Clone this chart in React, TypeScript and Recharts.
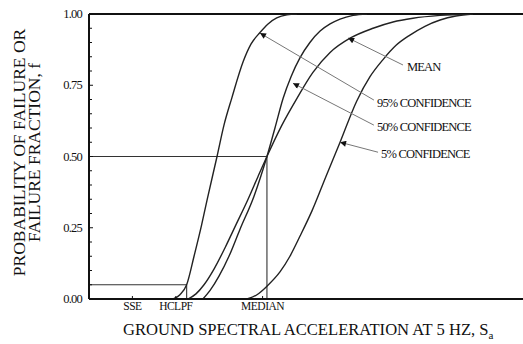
import React from "react"
import { LineChart, Line, XAxis, YAxis, ReferenceLine, ReferenceDot } from "recharts"

// fragility curves, x = spectral acceleration (g), f = failure probability
const conf95X = [0.388, 0.419, 0.45, 0.484, 0.519, 0.544, 0.59, 0.622, 0.658, 0.711, 0.747, 0.788, 0.825, 0.865, 0.912, 0.959]
const conf95F = [0, 0.015, 0.05, 0.15, 0.26, 0.347, 0.5, 0.61, 0.705, 0.834, 0.895, 0.935, 0.965, 0.986, 0.997, 1]

const meanX = [0.456, 0.493, 0.53, 0.576, 0.627, 0.677, 0.733, 0.779, 0.82, 0.889, 0.959, 1.032, 1.111, 1.203, 1.309, 1.401, 1.493, 1.618, 1.756]
const meanF = [0, 0.018, 0.05, 0.105, 0.18, 0.26, 0.35, 0.43, 0.5, 0.61, 0.705, 0.795, 0.865, 0.915, 0.95, 0.972, 0.985, 0.995, 1]

const conf50X = [0.525, 0.558, 0.599, 0.645, 0.696, 0.76, 0.82, 0.857, 0.895, 0.931, 0.972, 1.018, 1.065, 1.111, 1.157, 1.217, 1.281]
const conf50F = [0, 0.03, 0.08, 0.15, 0.245, 0.36, 0.5, 0.6, 0.705, 0.78, 0.846, 0.9, 0.94, 0.965, 0.982, 0.995, 1]

const conf5X = [0.728, 0.774, 0.82, 0.88, 0.926, 0.972, 1.028, 1.092, 1.157, 1.234, 1.295, 1.355, 1.415, 1.479, 1.548, 1.618, 1.691, 1.77]
const conf5F = [0, 0.015, 0.045, 0.095, 0.15, 0.22, 0.31, 0.43, 0.55, 0.695, 0.78, 0.84, 0.89, 0.926, 0.957, 0.979, 0.993, 1]

const hclpf = { x: 0.45, f: 0.05 }
const median = { x: 0.82, f: 0.5 }

const xTickValues = [0.2, 0.4, 0.8]
const xTickLabels = ["SSE", "HCLPF", "MEDIAN"]
const yMajorTicks = [0, 0.25, 0.5, 0.75, 1]
const yMinorTicks = [0, 0.05, 0.1, 0.15, 0.2, 0.25, 0.3, 0.35, 0.4, 0.45, 0.5, 0.55, 0.6, 0.65, 0.7, 0.75, 0.8, 0.85, 0.9, 0.95, 1]

// annotation labels: text position, arrow tail, arrow tip (data coords)
const noteLabels = ["MEAN", "95% CONFIDENCE", "50% CONFIDENCE", "5% CONFIDENCE"]
const noteText = [[1.465, 0.814], [1.327, 0.687], [1.327, 0.603], [1.346, 0.508]]
const noteTail = [[1.447, 0.821], [1.313, 0.698], [1.313, 0.61], [1.332, 0.515]]
const noteTip = [[1.194, 0.916], [0.788, 0.933], [0.94, 0.757], [1.157, 0.55]]

const toData = (xs: number[], fs: number[]) => xs.map((x, i) => ({ x, f: fs[i] }))

const FONT = "'Liberation Serif', 'DejaVu Serif', serif"
const INK = "#111"

const XTick = (props: any) => {
  const { x, y, index } = props
  return (
    <g>
      <line x1={x} x2={x} y1={y} y2={y - 3} stroke={INK} strokeWidth={1} />
      <text x={x} y={y + 7} textAnchor="middle" dominantBaseline="central" fontFamily={FONT} fontSize={11.5} letterSpacing={-0.5} fill={INK}>
        {xTickLabels[index]}
      </text>
    </g>
  )
}

const LeftTick = (props: any) => {
  const { x, y, payload } = props
  const major = yMajorTicks.includes(payload.value)
  return (
    <g>
      <line x1={x} x2={x + (major ? 4 : 3)} y1={y} y2={y} stroke={INK} strokeWidth={1} />
      {major && (
        <text x={x - 7} y={y} textAnchor="end" dominantBaseline="central" fontFamily={FONT} fontSize={12.5} letterSpacing={-0.8} fill={INK}>
          {payload.value.toFixed(2)}
        </text>
      )}
    </g>
  )
}

const RightTick = (props: any) => {
  const { x, y } = props
  return <line x1={x} x2={x - 4} y1={y} y2={y} stroke={INK} strokeWidth={1} />
}

const YTitle = (props: any) => {
  const { viewBox } = props
  const cy = viewBox.y + viewBox.height / 2 - 4
  const common = { textAnchor: "middle" as const, fontFamily: FONT, fontSize: 17.5, fill: INK }
  return (
    <g>
      <text x={25} y={cy} transform={`rotate(-90, 25, ${cy})`} {...common}>PROBABILITY OF FAILURE OR</text>
      <text x={40} y={cy} transform={`rotate(-90, 40, ${cy})`} {...common}>FAILURE FRACTION, f</text>
    </g>
  )
}

const XTitle = (props: any) => {
  const { viewBox } = props
  return (
    <text x={viewBox.x + 34} y={viewBox.y + 36} fontFamily={FONT} fontSize={16.6} fill={INK}>
      GROUND SPECTRAL ACCELERATION AT 5 HZ, S<tspan fontSize={11} dy={4}>a</tspan>
    </text>
  )
}

export default function App() {
  const curveStyle = { stroke: "#222", strokeWidth: 1.4, dot: false, isAnimationActive: false, type: "monotone" as const }
  return (
    <div style={{ position: "absolute", left: 0, top: 0, background: "#fff" }}>
      <LineChart width={523} height={344} margin={{ top: 14, right: 0, bottom: 0, left: 0 }}>
        <defs>
          <marker id="arrowHead" viewBox="0 0 10 10" refX="10" refY="5" markerWidth="8" markerHeight="6" markerUnits="userSpaceOnUse" orient="auto">
            <path d="M0,0 L10,5 L0,10 z" fill="#111" />
          </marker>
        </defs>
        <XAxis
          type="number"
          dataKey="x"
          domain={[0, 2]}
          ticks={xTickValues}
          interval={0}
          height={45}
          tickSize={0}
          tickMargin={0}
          tick={<XTick />}
          axisLine={{ stroke: INK, strokeWidth: 2 }}
          allowDataOverflow
          label={<XTitle />}
        />
        <YAxis
          type="number"
          dataKey="f"
          domain={[0, 1]}
          ticks={yMinorTicks}
          interval={0}
          width={89}
          tickSize={0}
          tickMargin={0}
          tick={<LeftTick />}
          axisLine={{ stroke: INK, strokeWidth: 2 }}
          allowDataOverflow
          label={<YTitle />}
        />
        <YAxis
          yAxisId="r"
          orientation="right"
          type="number"
          domain={[0, 1]}
          ticks={yMinorTicks}
          interval={0}
          width={0}
          tickSize={0}
          tickMargin={0}
          tick={<RightTick />}
          axisLine={false}
        />
        <ReferenceLine y={1} stroke={INK} strokeWidth={2} />
        <ReferenceLine segment={[{ x: 0, y: median.f }, { x: median.x, y: median.f }]} stroke="#333" strokeWidth={1.1} />
        <ReferenceLine segment={[{ x: median.x, y: 0 }, { x: median.x, y: median.f }]} stroke="#333" strokeWidth={1.1} />
        <ReferenceLine segment={[{ x: 0, y: hclpf.f }, { x: hclpf.x, y: hclpf.f }]} stroke="#333" strokeWidth={1.1} />
        <ReferenceLine segment={[{ x: hclpf.x, y: 0 }, { x: hclpf.x, y: hclpf.f }]} stroke="#333" strokeWidth={1.1} />

        <Line data={toData(conf95X, conf95F)} dataKey="f" name="95% CONFIDENCE" {...curveStyle} />
        <Line data={toData(meanX, meanF)} dataKey="f" name="MEAN" {...curveStyle} />
        <Line data={toData(conf50X, conf50F)} dataKey="f" name="50% CONFIDENCE" {...curveStyle} />
        <Line data={toData(conf5X, conf5F)} dataKey="f" name="5% CONFIDENCE" {...curveStyle} />

        {noteLabels.map((label, i) => (
          <ReferenceLine
            key={"arrow" + i}
            segment={[{ x: noteTail[i][0], y: noteTail[i][1] }, { x: noteTip[i][0], y: noteTip[i][1] }]}
            stroke="#777"
            strokeWidth={1}
            markerEnd="url(#arrowHead)"
          />
        ))}
        {noteLabels.map((label, i) => (
          <ReferenceDot
            key={"note" + i}
            x={noteText[i][0]}
            y={noteText[i][1]}
            r={0}
            shape={(p: any) => (
              <text x={p.cx} y={p.cy} dominantBaseline="central" fontFamily={FONT} fontSize={12.5} letterSpacing={-0.8} fill={INK}>
                {label}
              </text>
            )}
          />
        ))}
      </LineChart>
    </div>
  )
}
